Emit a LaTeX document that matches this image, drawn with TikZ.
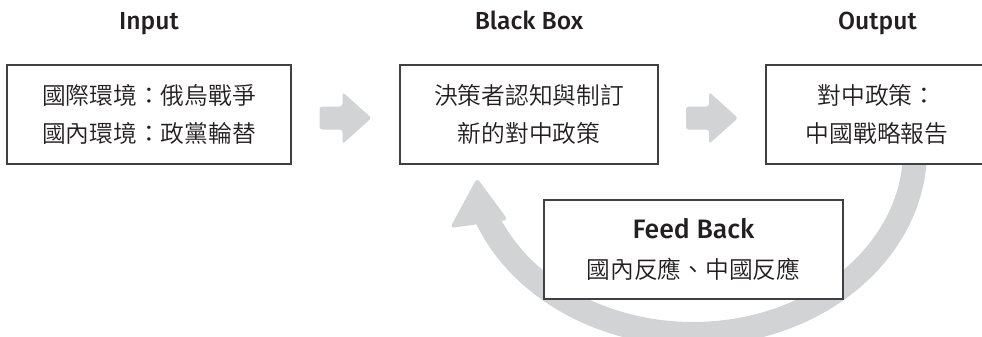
\documentclass[tikz,border=0pt]{standalone}
\usepackage{fontspec}
\usetikzlibrary{calc}
\setmainfont{Fira Sans}
\newfontfamily\cjk{Noto Sans CJK TC DemiLight}
\newfontfamily\titlefont{Fira Sans Medium}
\definecolor{arrowgray}{HTML}{D1D3D4}
\definecolor{boxline}{HTML}{404040}
\definecolor{ink}{HTML}{231F20}
\begin{document}
\begin{tikzpicture}[x=0.75pt,y=-0.75pt,
  box/.style={draw=boxline, line width=1pt, fill=white, inner sep=0pt, align=center,
    text=ink, minimum height=74.25pt, font=\cjk\fontsize{17.8}{28.5}\selectfont},
  title/.style={text=ink, font=\titlefont\fontsize{18.5}{22}\selectfont, inner sep=0pt, anchor=base},
  blockarrow/.style={fill=arrowgray, rounded corners=2pt},
  bandarrow/.style={draw=arrowgray, line width=18pt},
]
\useasboundingbox (0,0) rectangle (982,336);

% curved feedback arrow (drawn first, boxes cover it)
\coordinate (fbc) at (693,150);
\draw[bandarrow] (fbc) ++(-5:222 and 184) arc[start angle=-5, end angle=160, x radius=222, y radius=184];
\coordinate (tip) at (477,178);
\coordinate (barbL) at (450,228);
\coordinate (barbR) at (508,220);
\fill[arrowgray, rounded corners=3pt] (tip) -- (barbL) -- (barbR) -- cycle;

% titles
\node[title] (tin) at (149,29.5) {Input};
\node[title] (tbb) at (529,29.5) {Black Box};
\node[title] (tout) at (877.5,29.5) {Output};

% boxes
\node[box, minimum width=213pt] (in) at (149,114.5) {國際環境：俄烏戰爭\\國內環境：政黨輪替};
\node[box, minimum width=193.5pt] (bb) at (529,114.5) {決策者認知與制訂\\新的對中政策};
\node[box, minimum width=166.5pt] (out) at (877,114.5) {對中政策：\\中國戰略報告};
\node[box, minimum width=224.25pt] (fb) at (693.5,249.5)
  {{\titlefont\fontsize{20}{24}\selectfont Feed Back}\\[1.5pt]國內反應、中國反應};

% block arrows
\coordinate (m1) at ($(in.east)!0.5!(bb.west)$);
\coordinate (m2) at ($(bb.east)!0.5!(out.west)$);
\foreach \m in {m1,m2}{
  \fill[blockarrow] ([shift={(-26,-8)}]\m) -- ++(23,0) -- ++(0,-14.5) -- ++(29,26)
    -- ++(-29,26) -- ++(0,-14.5) -- ++(-23,0) -- cycle;
}
\end{tikzpicture}
\end{document}
